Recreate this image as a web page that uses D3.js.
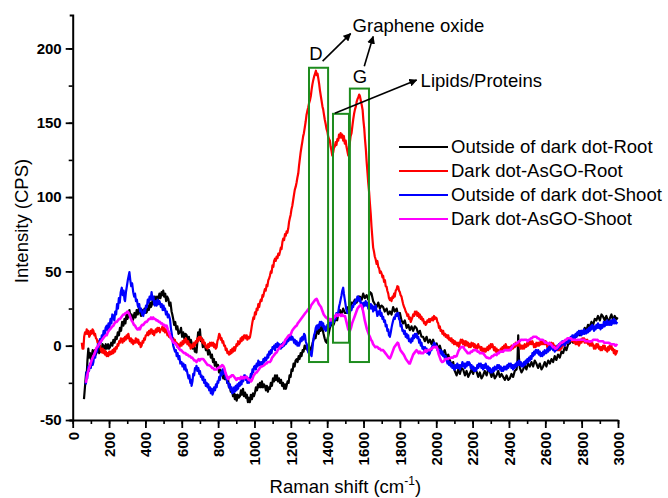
<!DOCTYPE html>
<html>
<head>
<meta charset="utf-8">
<script src="https://cdn.jsdelivr.net/npm/d3@7/dist/d3.min.js"></script>
<style>
    body { margin: 0; background: #fff; }
    svg { display: block; font-family: "Liberation Sans", Arial, Helvetica, sans-serif; }
</style>
</head>
<body>
<div id="chart"></div>
<script>

// ---- data: [Raman shift (cm-1), intensity (CPS)] ----
const outsideRoot = [[62,-36],[66,-30],[70,-24],[74,-18],[77,-20],[81,-10],[86,-2],[90,-8],[95,-5],[100,-9],[104,-7],[110,-3],[116,-6],[122,-3],[127,-6],[132,-4.5],[140,-2],[146,-5],[152,-1],[158,-4],[164,1],[169,0],[175,-3],[182,1],[188,-2],[195,1],[200,-2],[205,-1],[212,2],[218,0],[224,4],[230,2],[236,6],[242,4.5],[248,9],[254,7],[260,12],[266,10],[272,16],[279,13.5],[285,18],[290,15],[296,21],[301,18],[306,20],[312,24],[318,19],[324,21],[329,17],[333,18],[340,22],[346,19],[352,24],[358,21],[364,25],[370,22.5],[376,20],[382,24],[388,21],[395,25],[401,22],[407,22.5],[413,27],[419,24],[425,29],[430,26],[434,27],[440,31],[446,28],[452,33],[458,29],[464,33],[471,31.5],[477,35],[483,32],[489,36],[494,34],[498,37],[503,33],[509,35],[514,30],[520,33],[526,31.5],[532,27],[538,29],[544,23],[548,21],[553,18],[558,14],[564,16],[570,11],[576,13],[582,8],[590,9],[596,12],[602,6],[608,9],[614,5],[620,8],[627,7],[633,3],[639,6],[645,1],[650,4],[654,2],[660,-2],[666,1],[672,-4],[676,-2],[681,-4.5],[686,3],[690,9],[695,6],[700,11],[705,3],[710,5],[716,-1],[721,2],[727,0],[733,-3],[739,-1],[745,-6],[750,-3],[755,-4.5],[760,-8],[766,-6],[772,-11],[777,-9],[782,-13.5],[788,-11],[794,-15],[800,-13],[805,-18],[810,-16],[816,-19],[822,-17],[828,-22],[833,-20],[838,-22.5],[844,-20],[850,-25],[855,-23],[860,-28],[865,-27],[870,-31],[876,-29],[882,-34],[887,-32],[892,-36],[897,-33],[902,-37],[908,-33],[914,-35],[920,-34],[926,-30],[931,-33],[937,-29],[942,-34],[948,-31.5],[953,-35],[958,-33],[964,-38],[969,-35],[975,-38],[980,-33],[986,-36],[992,-32],[997,-34],[1003,-31.5],[1008,-28],[1014,-30],[1019,-26],[1025,-28],[1030,-25],[1036,-28],[1041,-24],[1047,-28],[1052,-26],[1057,-27],[1063,-30],[1068,-27],[1074,-31],[1079,-28],[1085,-29],[1090,-25],[1096,-27],[1102,-22],[1108,-24],[1113,-20],[1118,-23],[1124,-20],[1129,-24],[1135,-22],[1140,-25],[1146,-23],[1152,-27],[1157,-25],[1163,-29],[1168,-26],[1173,-29],[1177,-27],[1182,-24],[1188,-25],[1193,-20],[1199,-21],[1204,-16],[1210,-17],[1215,-12],[1221,-14],[1226,-10],[1232,-9],[1237,-11],[1243,-7],[1248,-9],[1254,-5],[1259,-7],[1265,-3],[1270,-4],[1276,0],[1281,-2],[1287,0],[1292,-3],[1298,1],[1303,-1],[1309,-3],[1314,-2],[1320,2],[1325,4],[1331,7],[1336,5],[1342,9],[1348,11],[1353,8],[1359,12],[1364,10],[1369,13.5],[1375,11],[1380,8],[1386,5],[1391,3],[1397,2],[1405,6],[1415,12],[1425,15],[1435,14],[1445,18],[1455,17],[1462,22],[1470,24],[1478,21],[1488,25],[1497,22],[1507,22],[1515,26],[1525,24],[1534,29],[1543,28.5],[1552,31],[1562,29],[1571,33],[1580,33],[1590,31],[1598,35],[1607,32],[1617,34],[1626,31],[1635,36],[1644,35],[1653,30],[1662,28],[1672,26],[1681,29],[1690,25],[1699,27],[1708,26],[1717,23],[1727,25],[1736,21],[1745,23],[1754,21],[1763,26],[1772,23],[1782,25],[1791,20],[1800,22],[1809,17],[1818,15],[1827,17],[1837,12],[1846,14],[1855,10.5],[1864,13],[1873,10],[1882,13],[1892,11.7],[1901,8],[1910,10],[1919,6],[1928,6],[1937,3],[1947,6],[1956,2],[1965,4],[1974,1],[1983,4],[1992,0],[2002,1.6],[2011,-2],[2020,0],[2029,-4],[2038,-5],[2047,-3],[2057,-8],[2066,-6],[2075,-9.6],[2084,-13],[2093,-11],[2102,-17],[2112,-20],[2121,-16],[2130,-19],[2139,-15],[2148,-16],[2158,-20],[2167,-17],[2176,-21],[2185,-18.6],[2194,-16],[2203,-19],[2212,-15],[2222,-17.5],[2231,-21],[2240,-18],[2249,-22],[2258,-20],[2267,-17],[2277,-20],[2286,-16],[2295,-17.5],[2304,-21],[2313,-18],[2322,-22],[2332,-20],[2341,-17],[2350,-21],[2359,-19],[2368,-21],[2378,-23],[2387,-20],[2396,-23],[2405,-22],[2414,-19],[2423,-21],[2432,-17],[2442,-16],[2447,-10],[2451,7],[2455,-8],[2460,-15],[2469,-18],[2478,-16],[2487,-13],[2496,-16],[2505,-12],[2515,-14],[2524,-11],[2533,-14],[2542,-10],[2551,-12],[2560,-15],[2570,-12],[2579,-16],[2588,-14],[2597,-11],[2606,-14],[2616,-10],[2625,-12],[2634,-9],[2643,-11],[2652,-7],[2661,-9.6],[2670,-6],[2680,-8],[2689,-4],[2698,-5],[2707,-1],[2716,-3],[2726,1],[2735,1.6],[2744,4],[2753,2],[2762,6],[2771,6],[2780,9],[2790,7],[2799,10],[2808,8.3],[2817,12],[2826,10],[2835,14],[2845,12.8],[2854,16],[2863,14],[2872,18],[2881,17],[2890,20],[2900,17],[2909,21],[2918,19.5],[2927,17],[2936,20],[2946,16],[2955,18.4],[2964,21],[2973,17],[2982,20],[2991,17.7],[2998,19]];

const asgoRoot = [[50,2],[54,-2],[59,-2],[63,6],[68,9],[73,8],[77,11],[82,8],[86,10],[91,6],[95,7],[100,10],[105,8],[109,11],[114,10],[119,7],[123,8],[128,5],[132,4.5],[137,2],[142,3],[146,-1],[151,0],[155,-3],[160,-4.5],[165,-2],[169,-5],[174,-3],[178,-6],[183,-4],[187,-7],[192,-5],[196,-7],[201,-4],[205,-6],[210,-4],[214,-5.6],[219,-3],[224,-5],[228,-2],[233,-4],[237,-1],[242,-2],[247,1],[251,0],[256,3],[260,2],[265,5],[270,4.5],[274,2],[279,5],[283,3],[288,6],[292,4],[297,7],[302,5],[306,8],[311,5],[315,3],[320,5],[324,2],[329,4],[333,1],[338,3],[343,2],[347,5],[352,4.5],[356,2],[361,4],[365,1],[370,2],[374,-1],[379,0],[384,3],[388,2],[393,5],[397,4],[402,7],[407,7],[411,9],[416,7],[420,10],[425,8],[430,11],[434,11],[439,8],[443,10],[448,7],[452,9],[457,11],[462,9],[466,12],[471,10],[475,12],[480,9],[484,11],[489,11],[494,13],[498,10],[503,12],[507,9],[512,11],[517,9],[521,7],[526,9],[530,6],[535,8],[539,5],[544,7],[549,4],[553,5],[558,2],[562,4],[567,1],[572,2],[576,-1],[581,1],[585,-2],[590,0],[594,2],[599,0],[604,3],[608,1],[613,4],[617,2],[622,5],[627,3.4],[631,1],[636,3],[640,0],[645,1],[649,-2],[654,-1],[659,1],[663,-1],[668,2],[672,0],[677,3],[681,2],[686,5],[690,3],[695,6],[700,4],[704,6],[709,4.5],[713,2],[718,4],[722,1],[727,2],[732,-1],[736,0],[741,-2],[745,1],[750,-1],[755,2],[759,0],[764,2],[768,0],[773,2],[778,-1],[782,1],[787,-2],[792,-1],[796,3],[801,5],[806,8],[810,7],[815,4],[819,5],[824,2],[828,3],[833,0],[838,0],[842,-3],[847,-2],[851,-5],[856,-4],[860,-6],[865,-5.6],[869,-3],[874,-5],[878,-2],[883,-4],[888,-1],[892,-3.4],[897,-1],[901,1],[906,0],[910,3],[915,1],[920,2],[924,5],[929,3],[933,6],[938,4],[943,7],[948,7],[952,5],[957,7],[961,4],[966,6],[971,5],[975,5.6],[980,9],[985,13],[989,16],[994,19],[998,18],[1003,22.5],[1008,21],[1012,25],[1017,24],[1021,28],[1026,26],[1030,29],[1035,31],[1039,30],[1044,34],[1048,33],[1053,36],[1057,38],[1062,37],[1067,41],[1071,40],[1076,44],[1080,45],[1085,47],[1090,50],[1094,49],[1099,54],[1104,53],[1108,57],[1113,58.5],[1117,57],[1122,60],[1127,59],[1131,62],[1136,61],[1140,63],[1145,66],[1149,65],[1154,70],[1158,72],[1163,71],[1168,75],[1172,74],[1177,77],[1181,76],[1186,79],[1190,83],[1195,86],[1199,88],[1204,92],[1208,94],[1213,98],[1218,102],[1222,105],[1227,107],[1232,110],[1236,113],[1241,116],[1245,121],[1250,126],[1254,130],[1259,134],[1263,137],[1268,141],[1272,143],[1277,147],[1282,151],[1286,155],[1291,158],[1295,160],[1300,163],[1305,165],[1310,168],[1314,172],[1319,176],[1324,179],[1328,181],[1333,183],[1338,185],[1342,182],[1347,183],[1351,180],[1356,176],[1360,172],[1365,168],[1369,165],[1374,161],[1378,159],[1383,155],[1387,152],[1392,149],[1396,146],[1401,144],[1405,141],[1410,139],[1415,138],[1419,134],[1424,131],[1428,128],[1433,130],[1437,133],[1442,134],[1447,137],[1451,135],[1456,139],[1461,138],[1465,142],[1470,140],[1474,143],[1479,140],[1483,142],[1488,138],[1492,141],[1497,136],[1502,138],[1506,134],[1511,131],[1516,128],[1520,133],[1525,137],[1529,141],[1534,143],[1539,148],[1543,152],[1548,156],[1553,159],[1558,161],[1562,164],[1567,166],[1571,167],[1576,169],[1580,168],[1585,165],[1590,162],[1595,158.6],[1599,152],[1604,146],[1608,139],[1613,131.7],[1617,124],[1622,116],[1626,109.5],[1631,103],[1635,96],[1640,88],[1644,80],[1649,72],[1653,66],[1658,63],[1662,60],[1667,58],[1672,55],[1676,57],[1681,53],[1686,52],[1690,49],[1695,50],[1699,48.7],[1704,46],[1708,47],[1713,43],[1718,44],[1722,40],[1727,39.7],[1731,37],[1736,35],[1740,32],[1745,30.7],[1750,32],[1754,30],[1759,33],[1763,32],[1768,35],[1772,33],[1777,37],[1782,38],[1786,40],[1791,39.7],[1795,37],[1800,36],[1804,34],[1809,33],[1814,30],[1818,28],[1823,26],[1827,25],[1832,23],[1837,21.8],[1841,20],[1846,21],[1850,18],[1855,19],[1860,16],[1864,17.3],[1869,19],[1873,21],[1878,20],[1883,23],[1887,21],[1892,22.9],[1896,20],[1901,22],[1906,19],[1910,21],[1915,18],[1919,19.5],[1924,17],[1928,18],[1933,15],[1938,16],[1942,14],[1947,15],[1951,17],[1956,16],[1961,18],[1965,16],[1970,18],[1974,17.3],[1979,19],[1983,17],[1988,20],[1992,18],[1997,19],[2002,18.4],[2006,16],[2011,15],[2015,12],[2020,13],[2024,10],[2029,10.5],[2034,8],[2038,10],[2043,7],[2048,8],[2052,6],[2057,7.2],[2062,5],[2066,7],[2071,4],[2075,5],[2080,3],[2084,5],[2089,2],[2093,3.8],[2098,1],[2103,3],[2107,1],[2112,2],[2116,0],[2121,2],[2126,-1],[2130,1.6],[2135,4],[2139,2],[2144,4],[2148,1],[2153,3],[2158,0],[2162,3],[2167,2.7],[2171,0],[2176,2],[2180,-1],[2185,1],[2190,-1],[2194,2],[2199,0],[2203,1.6],[2208,-1],[2212,1],[2217,-2],[2222,0],[2226,-2],[2231,1],[2235,-1],[2240,-0.7],[2245,-3],[2249,-1],[2254,-4],[2258,-2],[2263,-4],[2268,-2],[2272,-4],[2277,-3],[2281,-1],[2286,-3],[2290,0],[2295,-2],[2300,1],[2304,-1],[2309,1],[2313,-0.7],[2318,-3],[2322,-1],[2327,-4],[2332,-2],[2336,-5],[2341,-3],[2345,-5],[2350,-4],[2355,-2],[2359,-4],[2364,-1],[2368,-3],[2373,0],[2378,-2],[2382,1],[2387,-0.7],[2391,-3],[2396,-1],[2400,-3],[2405,-1],[2410,-3],[2414,0],[2419,-2],[2423,-1.8],[2428,1],[2432,-1],[2437,2],[2442,0],[2446,2],[2451,0],[2455,2],[2460,0.5],[2465,-2],[2469,0],[2474,-2],[2478,0],[2483,-2],[2487,1],[2492,-1],[2496,-0.7],[2501,2],[2506,0],[2510,3],[2515,1],[2519,3],[2524,1],[2529,3],[2533,1.6],[2538,-1],[2542,1],[2547,-1],[2551,2],[2556,0],[2561,2],[2565,0],[2570,0.5],[2574,3],[2579,1],[2584,3],[2588,1],[2593,3],[2597,1],[2602,3],[2606,1.6],[2611,-1],[2616,1],[2620,-1],[2625,2],[2629,0],[2634,2],[2639,0],[2643,1.6],[2648,-1],[2652,0],[2657,-2],[2661,-1],[2666,-3],[2671,-1],[2675,-3],[2680,-3],[2684,-1],[2689,-2],[2694,1],[2698,0],[2703,2],[2707,0],[2712,3],[2716,1.6],[2721,4],[2726,2],[2730,5],[2735,3],[2740,5],[2744,3],[2749,6],[2753,3.8],[2758,2],[2763,4],[2767,1],[2772,3],[2776,1],[2781,3],[2785,0],[2790,1.6],[2795,4],[2799,2],[2804,5],[2808,3],[2813,5],[2817,2],[2822,4],[2826,2],[2831,4],[2836,1],[2840,3],[2845,0],[2849,2],[2854,0],[2858,2],[2863,0.5],[2868,-2],[2872,0],[2877,-2],[2881,1],[2886,-1],[2890,1],[2895,-2],[2900,-0.7],[2904,-3],[2909,-1],[2913,-3],[2918,0],[2922,-2],[2927,0],[2931,-3],[2936,-1.8],[2941,-4],[2945,-1],[2950,-3],[2954,0],[2959,-2],[2964,0],[2968,-3],[2973,-2],[2977,-5],[2982,-3],[2986,-6],[2991,-5],[2996,-3]];

const outsideShoot = [[72,-26],[76,-18],[80,-22],[85,-14],[90,-17],[95,-12],[100,-15],[105,-9],[110,-13],[114,-11],[119,-5],[124,-8],[129,-2],[134,-4],[139,1],[144,-1],[150,4.5],[155,2],[160,7],[165,5],[170,10],[175,7],[181,12],[187,13.5],[192,10],[197,15],[202,12],[208,18],[213,15],[218,21],[224,20],[229,17],[234,23],[239,21],[244,28],[249,25],[254,32],[259,29],[264,36],[270,39],[275,34],[280,37],[285,31],[288,30],[293,36],[298,40],[303,44],[308,47],[312,49.5],[317,44],[322,40],[327,42],[333,36],[338,33],[343,35],[348,30],[353,31],[358,27],[361,26],[366,28],[371,23],[376,25],[382,21],[388,20],[393,24],[398,22],[403,27],[408,26],[413,31],[418,29],[423,33],[429,31],[434,36],[439,31],[444,33],[448,28],[452,27],[457,30],[462,27],[467,31],[472,28],[477,30],[480,29],[485,26],[490,28],[495,24],[500,27],[504,24],[508,25],[513,21],[518,23],[523,19],[528,21],[535,18],[540,12],[545,8],[549,4],[553,0],[558,-2],[563,-4],[568,-3],[572,-7],[577,-5],[582,-9],[587,-7],[592,-12],[599,-11],[604,-14],[609,-12],[614,-16],[619,-13],[624,-17],[627,-16],[632,-19],[637,-22],[642,-20],[647,-25],[651,-23],[654,-27],[659,-24],[663,-19],[668,-20],[673,-15],[677,-16],[681,-13.5],[686,-17],[691,-15],[696,-19],[700,-17],[705,-21],[709,-20],[714,-23],[718,-21],[723,-25],[728,-23],[732,-27],[737,-25],[742,-28],[746,-26],[751,-30],[756,-28],[760,-32],[765,-29],[769,-33],[773,-31.5],[778,-28],[783,-30],[788,-26],[792,-28],[797,-24],[801,-25],[806,-21],[810,-23],[815,-18],[820,-20],[824,-16],[828,-16],[833,-19],[838,-18],[842,-22],[847,-21],[851,-25],[856,-25],[860,-28],[865,-26],[869,-30],[874,-28],[878,-32],[883,-31.5],[888,-28],[892,-31],[897,-27],[901,-30],[906,-26],[910,-29],[915,-25],[920,-27],[924,-24],[929,-26],[933,-22],[938,-24],[943,-20],[948,-20],[952,-23],[957,-21],[961,-25],[966,-22],[970,-25],[975,-22.5],[980,-19],[984,-21],[989,-16],[993,-18],[998,-14],[1003,-13.5],[1008,-16],[1012,-12],[1017,-14],[1021,-10],[1026,-13],[1030,-11],[1035,-14],[1040,-11],[1044,-13],[1049,-9],[1053,-11],[1058,-8],[1063,-10],[1067,-9],[1072,-6],[1076,-8],[1081,-4],[1085,-6],[1090,-3],[1094,-5],[1099,-1],[1104,-2],[1108,0],[1113,-3],[1117,1],[1122,-1],[1127,2],[1131,-1],[1136,1],[1140,0],[1145,-2],[1149,1],[1154,-1],[1158,2],[1163,0],[1168,3],[1172,1],[1177,2],[1181,5],[1186,3],[1190,6],[1195,4],[1199,7],[1204,4],[1208,6],[1213,4.5],[1218,2],[1222,4],[1227,1],[1232,3],[1236,0],[1241,2],[1245,0],[1250,2],[1254,5],[1259,3],[1263,6],[1268,4],[1273,8],[1278,7],[1282,3],[1287,1],[1291,-2],[1296,-4.5],[1300,-3],[1305,-6],[1310,-4],[1314,-7],[1319,-2],[1323,3],[1328,7],[1333,9],[1337,12],[1342,13.5],[1346,11],[1351,14],[1355,12],[1360,16],[1364,14],[1369,16],[1374,13],[1378,15],[1383,11],[1387,13],[1392,10],[1397,11],[1401,14],[1406,12],[1410,15],[1415,13],[1419,17],[1424,15],[1428,18],[1433,18],[1438,16],[1442,20],[1447,18],[1451,22],[1456,20],[1461,22.5],[1465,26],[1470,28.5],[1474,31],[1479,34],[1483,37],[1488,39],[1492,35],[1497,31],[1502,27],[1506,24],[1511,22],[1516,21.8],[1520,24],[1525,22],[1529,25],[1534,24],[1539,27],[1543,26],[1548,29],[1553,28],[1557,31],[1562,30],[1566,33],[1571,33],[1576,30],[1580,32],[1585,28],[1590,29],[1594,25],[1598,26],[1603,29],[1608,27],[1612,30],[1617,27],[1621,29],[1626,25],[1630,27],[1635,25],[1640,28],[1644,25],[1649,27],[1653,23],[1658,26],[1663,24],[1667,27],[1672,23],[1676,20],[1681,23],[1686,21],[1690,24],[1695,20],[1699,22],[1704,18],[1708,19.5],[1713,16],[1718,17],[1722,13],[1727,14],[1731,10],[1736,11],[1740,7],[1745,6],[1750,9],[1754,12],[1759,15],[1763,17],[1768,19],[1772,18],[1777,21],[1782,20],[1786,22],[1791,22],[1795,18],[1800,17],[1804,13],[1809,14],[1814,10],[1818,10.5],[1823,8],[1827,10],[1832,6],[1837,8],[1841,5],[1846,7],[1850,3],[1855,4],[1860,2],[1864,5],[1869,3],[1873,7],[1878,5],[1883,8],[1887,6],[1892,8],[1896,5],[1901,6],[1906,2],[1910,4],[1915,0],[1919,2],[1924,-2],[1928,-0.7],[1933,-3],[1938,-1],[1942,-4],[1947,-2],[1951,-5],[1956,-3],[1961,-6],[1965,-5],[1970,-2],[1974,-3],[1979,0],[1983,-1],[1988,2],[1992,1.6],[1997,-1],[2002,0],[2006,-3],[2011,-2],[2015,-5],[2020,-5],[2024,-3],[2029,-6],[2034,-4],[2038,-7],[2043,-6],[2048,-9],[2052,-7],[2057,-9.6],[2062,-12],[2066,-10],[2071,-13],[2075,-11],[2080,-14],[2084,-12],[2089,-15],[2093,-13],[2098,-16],[2102,-16],[2107,-13],[2112,-15],[2116,-12],[2121,-15],[2126,-13],[2130,-16],[2135,-13],[2139,-14],[2144,-11],[2148,-14],[2153,-12],[2158,-15],[2162,-12],[2167,-14],[2171,-11],[2176,-13],[2180,-11],[2185,-12],[2190,-15],[2194,-13],[2199,-16],[2203,-14],[2208,-17],[2212,-15],[2217,-17],[2222,-16],[2226,-13],[2231,-15],[2235,-12],[2240,-14],[2245,-12],[2249,-15],[2254,-13],[2258,-16],[2263,-13],[2268,-15],[2272,-12],[2277,-14],[2281,-16],[2286,-14],[2290,-17],[2295,-15],[2300,-18],[2304,-16],[2309,-18],[2313,-15],[2318,-17],[2322,-14],[2327,-16],[2332,-16],[2336,-13],[2341,-15],[2345,-13],[2350,-16],[2355,-14],[2359,-17],[2364,-15],[2368,-17],[2373,-14],[2378,-16],[2382,-14],[2387,-16],[2391,-13],[2396,-15],[2400,-12],[2405,-14],[2410,-12],[2414,-15],[2419,-13],[2423,-16],[2428,-13],[2432,-15],[2437,-12],[2442,-14],[2446,-11],[2451,-13],[2455,-10],[2460,-13],[2465,-11],[2469,-14],[2474,-12],[2478,-14],[2483,-11],[2487,-13],[2492,-10],[2496,-12],[2501,-9],[2506,-11],[2510,-8],[2515,-10],[2519,-7],[2524,-9],[2529,-5],[2533,-7],[2538,-4],[2542,-6],[2547,-3],[2551,-3],[2556,-5],[2561,-3],[2565,-6],[2570,-4],[2574,-7],[2579,-5],[2584,-7],[2588,-4],[2593,-6],[2597,-3],[2602,-5],[2606,-5],[2611,-2],[2616,-4],[2620,-1],[2625,-3],[2629,0],[2634,-2],[2639,0],[2643,-3],[2648,-1],[2652,-4],[2657,-2],[2661,-3],[2666,0],[2671,-2],[2675,1],[2680,-1],[2684,2],[2689,0],[2694,3],[2698,1],[2703,3],[2707,0],[2712,2],[2716,1.6],[2721,4],[2726,2],[2730,5],[2735,3],[2740,6],[2744,4],[2749,7],[2753,5],[2758,7],[2763,5],[2767,8],[2771,6],[2776,9],[2781,7],[2785,10],[2790,8],[2795,10],[2799,7],[2804,10],[2808,8],[2813,11],[2817,8],[2822,10],[2826,8.3],[2831,11],[2836,9],[2840,12],[2845,10],[2849,13],[2854,11],[2858,14],[2863,13],[2868,10],[2872,13],[2877,11],[2881,14],[2886,12],[2890,15],[2895,12],[2900,14],[2904,11],[2909,14],[2913,12],[2918,13],[2922,16],[2927,13],[2931,16],[2936,14],[2941,17],[2945,14],[2950,16],[2955,14],[2959,17],[2964,14],[2968,17],[2973,15],[2977,18],[2982,15],[2986,17],[2991,15],[2996,16]];

const asgoShoot = [[73,-25],[78,-21],[84,-18],[90,-15],[95,-13.5],[101,-11],[107,-9],[113,-7],[118,-6],[123,-4.5],[129,-2],[134,-1],[140,0],[145,1],[150,2],[156,3],[162,4],[168,5],[174,6],[181,7],[187,7],[193,9],[199,10],[205,11],[212,12],[218,13],[224,13.5],[230,15],[236,16],[242,16],[248,17],[254,18],[260,18],[266,19],[272,20],[278,21],[284,21],[290,22],[296,22],[301,23],[306,22.5],[312,21],[318,19],[324,17],[330,16],[337,14],[343,13.5],[349,12],[355,11],[361,11],[367,12],[370,11],[376,13],[382,14],[388,14],[394,15],[401,16],[407,16],[413,17],[419,18],[425,18],[431,19],[437,18],[443,19],[449,18],[455,18],[461,17],[467,17],[474,16],[480,16],[486,15],[492,15],[498,14],[504,14],[510,13],[517,13.5],[523,11],[529,9],[535,7],[541,5],[544,4.5],[550,3],[556,2],[562,2],[568,1],[574,0],[580,-1],[586,-2],[592,-3],[598,-3],[604,-4],[608,-4.5],[614,-5],[620,-5],[626,-6],[632,-6],[638,-7],[645,-7],[651,-8],[657,-8],[663,-9],[669,-10],[675,-10],[681,-11],[687,-10],[693,-9],[699,-10],[705,-9],[712,-9],[718,-9],[724,-10],[730,-11],[736,-12],[742,-13],[748,-13],[755,-13.5],[761,-14],[767,-15],[773,-15],[779,-16],[786,-16],[792,-16],[798,-15],[804,-15],[810,-14],[816,-14],[822,-13],[828,-13.5],[834,-15],[840,-18],[846,-20],[852,-22],[856,-22.5],[862,-21],[868,-21],[874,-20],[879,-20],[883,-20],[889,-21],[895,-22],[901,-23],[907,-22],[913,-22],[920,-22.5],[926,-21],[932,-22],[938,-21],[944,-22],[951,-21],[957,-21],[963,-22],[969,-23],[975,-23],[981,-24],[984,-23.6],[990,-22],[996,-20],[1002,-19],[1008,-18],[1012,-18],[1018,-17],[1024,-16],[1030,-15],[1036,-14],[1042,-14],[1049,-13.5],[1055,-13],[1061,-12],[1067,-12],[1073,-11],[1079,-11],[1085,-11],[1091,-10],[1097,-8],[1104,-7],[1110,-6],[1116,-5],[1122,-4.5],[1128,-3],[1134,-2],[1140,-1],[1146,0],[1152,0],[1158,1],[1164,2],[1170,4],[1177,5],[1183,6],[1189,7],[1195,7],[1201,8],[1207,10],[1213,11],[1219,12],[1226,13],[1232,13.5],[1238,15],[1244,16],[1250,17],[1256,18],[1262,19],[1268,20],[1274,21],[1280,22],[1287,23],[1293,24],[1299,25],[1305,25],[1311,27],[1317,28],[1323,29],[1329,30],[1335,31],[1342,31.5],[1348,30],[1354,28],[1360,27],[1366,26],[1369,25],[1375,23],[1381,21],[1387,20],[1393,19],[1397,19],[1403,18],[1409,17],[1415,18],[1421,17],[1427,18],[1433,18],[1439,19],[1445,20],[1452,21],[1458,20],[1464,21],[1470,21],[1476,20],[1482,21],[1488,20],[1494,20],[1498,20],[1504,17],[1510,14],[1516,11],[1521,10],[1525,10],[1531,12],[1537,15],[1543,17],[1549,19],[1555,21],[1561,23],[1567,25],[1573,26],[1580,27],[1586,27.4],[1592,26],[1598,23],[1604,19],[1607,17],[1613,14],[1619,11],[1625,9],[1631,7],[1635,6],[1641,4],[1647,3],[1653,1],[1659,0],[1665,-1],[1672,-0.7],[1678,-1],[1684,-2],[1690,-2],[1696,-3],[1702,-3],[1708,-3],[1714,-4],[1720,-5],[1726,-6],[1732,-7],[1738,-8],[1745,-8.5],[1751,-7],[1757,-5],[1763,-3],[1769,-1],[1775,0],[1781,1],[1787,2],[1791,1.6],[1797,-1],[1803,-3],[1809,-4],[1815,-5],[1821,-6],[1827,-7.4],[1833,-9],[1839,-10],[1845,-11],[1851,-12],[1855,-12],[1861,-10],[1867,-8],[1873,-6],[1879,-5],[1885,-4],[1892,-3],[1898,-4],[1904,-5],[1910,-4],[1916,-5],[1922,-5],[1928,-5],[1934,-4],[1940,-3],[1946,-4],[1952,-3],[1958,-3],[1965,-3],[1971,-2],[1977,-2],[1983,-1],[1989,-1],[1995,-1],[2002,-0.7],[2008,-3],[2014,-6],[2020,-8],[2026,-10],[2032,-11],[2038,-10.8],[2044,-10],[2050,-9],[2056,-9],[2062,-9],[2068,-8.5],[2075,-8.5],[2081,-8],[2087,-8],[2093,-8],[2099,-7],[2105,-7.4],[2112,-7],[2118,-5],[2124,-3],[2130,-2],[2136,-1],[2142,-1],[2148,-0.7],[2154,-2],[2160,-3],[2167,-4],[2173,-5],[2179,-5],[2185,-5],[2191,-4],[2197,-4],[2203,-3],[2209,-3],[2215,-3],[2222,-3],[2228,-4],[2234,-4],[2240,-5],[2246,-5],[2252,-5],[2258,-5],[2264,-6],[2270,-7],[2277,-8],[2283,-8],[2289,-8.5],[2295,-8.5],[2301,-8],[2307,-7],[2313,-7],[2320,-6],[2326,-6],[2332,-6.3],[2338,-5],[2344,-5],[2350,-4],[2356,-4],[2362,-4],[2368,-4],[2374,-3],[2380,-3],[2387,-3],[2393,-3],[2399,-3],[2405,-3],[2411,-2],[2417,-1],[2423,0],[2430,1],[2436,1],[2442,1.6],[2448,2],[2454,3],[2460,3],[2466,4],[2472,4],[2478,3.8],[2484,4],[2490,4],[2497,4],[2503,3],[2509,4],[2515,4],[2521,5],[2527,5],[2533,6],[2539,6],[2545,6],[2551,6],[2557,5],[2563,5],[2570,4],[2576,4],[2582,4],[2588,3.8],[2594,3],[2600,2],[2606,2],[2612,2],[2618,1],[2625,1.6],[2631,1],[2637,0],[2643,-1],[2649,-1],[2655,-2],[2661,-1.8],[2667,-1],[2673,0],[2680,1],[2686,2],[2692,2],[2698,2.7],[2704,3],[2710,4],[2716,4],[2722,5],[2728,5],[2735,5],[2741,5],[2747,4],[2753,4],[2759,4],[2765,4],[2771,3.8],[2777,4],[2783,4],[2790,4],[2796,4],[2802,4],[2808,4],[2814,4],[2820,3],[2826,3],[2832,3],[2838,3],[2845,2.7],[2851,3],[2857,3],[2863,4],[2869,4],[2875,4],[2881,3.8],[2887,4],[2893,3],[2900,3],[2906,3],[2912,3],[2918,3],[2924,2],[2930,2],[2936,2],[2942,2],[2948,2],[2955,1.6],[2961,1],[2967,1],[2973,1],[2979,1],[2985,0],[2991,0.5],[2997,0]];

const seriesNames = ["Outside of dark dot-Root", "Dark dot-AsGO-Root", "Outside of dark dot-Shoot", "Dark dot-AsGO-Shoot"];
const seriesData = [outsideRoot, asgoRoot, outsideShoot, asgoShoot];

const xTicks = [0, 200, 400, 600, 800, 1000, 1200, 1400, 1600, 1800, 2000, 2200, 2400, 2600, 2800, 3000];
const yTicks = [-50, 0, 50, 100, 150, 200];

// highlighted band regions (data units): [x0, x1, y0, y1]
const bandD = [1300, 1405, -11, 187];
const bandLipid = [1432, 1520, 2, 156];
const bandG = [1525, 1630, -11, 173];

// annotation labels / arrows in data units
const peakLabels = [
    {text: "D", x: 1301, y: 192.5},
    {text: "G", x: 1541, y: 177},
    {text: "Graphene oxide", x: 1540, y: 211},
    {text: "Lipids/Proteins", x: 1914, y: 174}
];
const arrows = [
    {from: [1375, 191.5], to: [1529, 210]},
    {from: [1604, 188], to: [1653, 208]},
    {from: [1442, 156.4], to: [1892, 178.8]}
];

// ---- drawing ----
const colors = ["#000000", "#ff0000", "#0000ff", "#ff00ff"];
const width = 668, height = 498;
const margin = {left: 72.7, right: 50, top: 15, bottom: 78};

const svg = d3.select("#chart").append("svg")
    .attr("width", width)
    .attr("height", height);

svg.append("rect").attr("width", width).attr("height", height).attr("fill", "#fff");

const x = d3.scaleLinear().domain([0, 3000]).range([margin.left, width - margin.right]);
const y = d3.scaleLinear().domain([-50, 222.5]).range([height - margin.bottom, margin.top]);

const defs = svg.append("defs");
defs.append("marker")
    .attr("id", "arrowhead")
    .attr("viewBox", "0 0 10 10")
    .attr("refX", 9)
    .attr("refY", 5)
    .attr("markerWidth", 8)
    .attr("markerHeight", 8)
    .attr("markerUnits", "userSpaceOnUse")
    .attr("orient", "auto")
    .append("path")
    .attr("d", "M0,0L10,5L0,10z")
    .attr("fill", "#000");

// spectra
const line = d3.line().x(d => x(d[0])).y(d => y(d[1]));
svg.append("g").selectAll("path")
    .data(seriesData)
    .join("path")
    .attr("d", line)
    .attr("fill", "none")
    .attr("stroke", (d, i) => colors[i])
    .attr("stroke-width", (d, i) => i === 3 ? 2.6 : 2.2)
    .attr("stroke-linejoin", "round");

// green band boxes
svg.append("g").selectAll("rect")
    .data([bandD, bandLipid, bandG])
    .join("rect")
    .attr("x", d => x(d[0]))
    .attr("y", d => y(d[3]))
    .attr("width", d => x(d[1]) - x(d[0]))
    .attr("height", d => y(d[2]) - y(d[3]))
    .attr("fill", "none")
    .attr("stroke", "#1e8c1e")
    .attr("stroke-width", 2);

// arrows
svg.append("g").selectAll("line")
    .data(arrows)
    .join("line")
    .attr("x1", d => x(d.from[0]))
    .attr("y1", d => y(d.from[1]))
    .attr("x2", d => x(d.to[0]))
    .attr("y2", d => y(d.to[1]))
    .attr("stroke", "#000")
    .attr("stroke-width", 1.6)
    .attr("marker-end", "url(#arrowhead)");

svg.append("g").selectAll("text")
    .data(peakLabels)
    .join("text")
    .attr("x", d => x(d.x))
    .attr("y", d => y(d.y))
    .attr("font-size", "18.5px")
    .attr("fill", "#000")
    .text(d => d.text);

// axes
const xMinor = d3.range(0, 3001, 100);
const yMinor = d3.range(-50, 222, 25);
const plainNum = d => String(d);   // keep "1000" and "-50" as plain text

svg.append("g")
    .attr("transform", `translate(0,${y(-50)})`)
    .call(d3.axisBottom(x).tickValues(xMinor).tickSize(4).tickSizeOuter(0).tickFormat(""))
    .call(g => g.select(".domain").remove())
    .selectAll("line").attr("stroke-width", 1.6);

svg.append("g")
    .attr("transform", `translate(${x(0)},0)`)
    .call(d3.axisLeft(y).tickValues(yMinor).tickSize(4).tickSizeOuter(0).tickFormat(""))
    .call(g => g.select(".domain").remove())
    .selectAll("line").attr("stroke-width", 1.6);

const xAxis = svg.append("g")
    .attr("transform", `translate(0,${y(-50)})`)
    .call(d3.axisBottom(x).tickValues(xTicks).tickFormat(plainNum).tickSize(8).tickSizeOuter(0));
xAxis.select(".domain").attr("stroke-width", 2);
xAxis.selectAll(".tick line").attr("stroke-width", 1.8);
xAxis.selectAll(".tick text")
    .attr("transform", "rotate(-90)")
    .attr("text-anchor", "end")
    .attr("x", -12)
    .attr("y", 0)
    .attr("dy", "0.36em")
    .attr("font-size", "15px")
    .attr("font-weight", "bold")
    .attr("font-family", "Liberation Sans, Arial, sans-serif")
    .attr("fill", "#000");

const yAxis = svg.append("g")
    .attr("transform", `translate(${x(0)},0)`)
    .call(d3.axisLeft(y).tickValues(yTicks).tickFormat(plainNum).tickSize(7).tickPadding(4).tickSizeOuter(3));
yAxis.select(".domain").attr("stroke-width", 2);
yAxis.selectAll(".tick line").attr("stroke-width", 1.8);
yAxis.selectAll(".tick text")
    .attr("font-size", "15px")
    .attr("font-weight", "bold")
    .attr("font-family", "Liberation Sans, Arial, sans-serif")
    .attr("fill", "#000");

// axis titles
svg.append("text")
    .attr("transform", `translate(28,221) rotate(-90)`)
    .attr("text-anchor", "middle")
    .attr("font-size", "18.5px")
    .text("Intensity (CPS)");

const xTitle = svg.append("text")
    .attr("x", (x(0) + x(3000)) / 2)
    .attr("y", 493)
    .attr("text-anchor", "middle")
    .attr("font-size", "18.5px");
xTitle.append("tspan").text("Raman shift (cm");
xTitle.append("tspan").attr("font-size", "12px").attr("dy", -8).text("-1");
xTitle.append("tspan").attr("dy", 8).text(")");

// legend
const legend = svg.append("g").selectAll("g")
    .data(seriesNames)
    .join("g")
    .attr("transform", (d, i) => `translate(399,${147 + i * 24})`);
legend.append("line")
    .attr("x1", 0).attr("x2", 49)
    .attr("stroke", (d, i) => colors[i])
    .attr("stroke-width", 2);
legend.append("text")
    .attr("x", 52)
    .attr("dy", "0.35em")
    .attr("font-size", "18.5px")
    .text(d => d);

</script>
</body>
</html>
